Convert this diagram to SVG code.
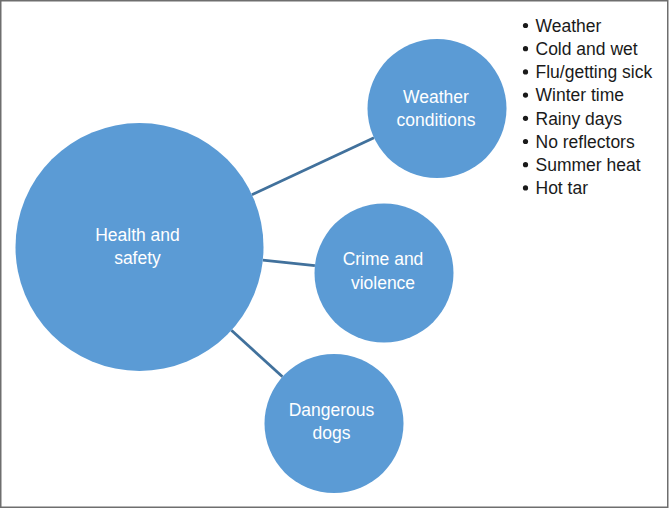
<svg xmlns="http://www.w3.org/2000/svg" width="670" height="509" viewBox="0 0 670 509">
<style>
.node{fill:#5B9BD5;}
.lbl{font-family:"Liberation Sans",Arial,sans-serif;font-size:17.5px;fill:#FFFFFF;text-anchor:middle;}
.conn{stroke:#41719C;stroke-width:2.8;fill:none;}
.bul{font-family:"Liberation Sans",Arial,sans-serif;font-size:17.5px;fill:#1A1A1A;}
</style>
<rect x="0.75" y="0.75" width="667" height="506.5" fill="#FFFFFF" stroke="#6E6E6E" stroke-width="1.5"/>
<g id="connectors">
<line class="conn" x1="251.9" y1="194.7" x2="374" y2="137.8"/>
<line class="conn" x1="262.8" y1="260.1" x2="314.9" y2="265.7"/>
<line class="conn" x1="231.4" y1="330.3" x2="282.5" y2="376.8"/>
</g>
<g id="health">
<circle class="node" cx="139.5" cy="247" r="124"/>
<text class="lbl" x="137.5" y="240.7">Health and</text>
<text class="lbl" x="137.5" y="263.5">safety</text>
</g>
<g id="weather">
<circle class="node" cx="437" cy="108.5" r="69.5"/>
<text class="lbl" x="436" y="102.7">Weather</text>
<text class="lbl" x="436" y="125.7">conditions</text>
</g>
<g id="crime">
<circle class="node" cx="384" cy="273" r="69.5"/>
<text class="lbl" x="383" y="265">Crime and</text>
<text class="lbl" x="383" y="288.5">violence</text>
</g>
<g id="dogs">
<circle class="node" cx="334" cy="423.5" r="69.5"/>
<text class="lbl" x="331.5" y="416">Dangerous</text>
<text class="lbl" x="331.5" y="438.5">dogs</text>
</g>
<g id="list">
<g fill="#1A1A1A">
<circle cx="525.5" cy="25.5" r="2.6"/>
<circle cx="525.5" cy="48.7" r="2.6"/>
<circle cx="525.5" cy="71.9" r="2.6"/>
<circle cx="525.5" cy="95.1" r="2.6"/>
<circle cx="525.5" cy="118.3" r="2.6"/>
<circle cx="525.5" cy="141.5" r="2.6"/>
<circle cx="525.5" cy="164.7" r="2.6"/>
<circle cx="525.5" cy="187.9" r="2.6"/>
</g>
<text class="bul" x="535.5" y="31.7">Weather</text>
<text class="bul" x="535.5" y="54.9">Cold and wet</text>
<text class="bul" x="535.5" y="78.1">Flu/getting sick</text>
<text class="bul" x="535.5" y="101.3">Winter time</text>
<text class="bul" x="535.5" y="124.5">Rainy days</text>
<text class="bul" x="535.5" y="147.7">No reflectors</text>
<text class="bul" x="535.5" y="170.9">Summer heat</text>
<text class="bul" x="535.5" y="194.1">Hot tar</text>
</g>
</svg>
